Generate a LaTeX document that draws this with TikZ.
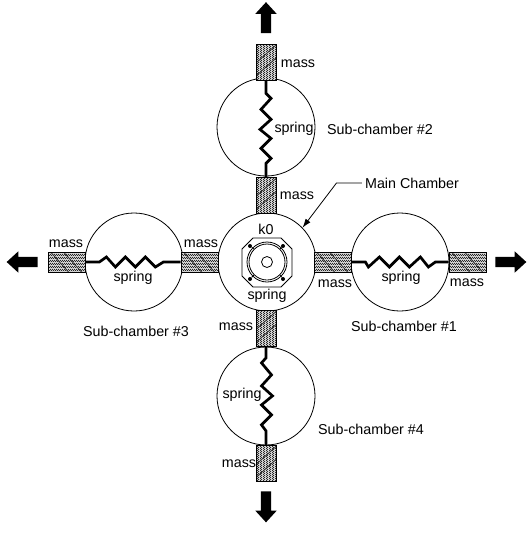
\documentclass[tikz,border=0pt]{standalone}
\usepackage{fontspec}
\setmainfont{Liberation Sans}
\usetikzlibrary{patterns,shapes.arrows,arrows.meta,calc}
\pgfdeclarepatternformonly{hatchne}{\pgfqpoint{0pt}{0pt}}{\pgfqpoint{2.4pt}{2.4pt}}{\pgfqpoint{2.4pt}{2.4pt}}{%
  \pgfsetlinewidth{0.7pt}%
  \pgfpathmoveto{\pgfqpoint{-0.2pt}{-0.2pt}}\pgfpathlineto{\pgfqpoint{2.6pt}{2.6pt}}\pgfusepath{stroke}}
\pgfdeclarepatternformonly{hatchnw}{\pgfqpoint{0pt}{0pt}}{\pgfqpoint{2.4pt}{2.4pt}}{\pgfqpoint{2.4pt}{2.4pt}}{%
  \pgfsetlinewidth{0.7pt}%
  \pgfpathmoveto{\pgfqpoint{-0.2pt}{2.6pt}}\pgfpathlineto{\pgfqpoint{2.6pt}{-0.2pt}}\pgfusepath{stroke}}
\tikzset{
  x=1pt,y=-1pt,
  lbl/.style={font=\fontsize{14.3}{16}\selectfont,inner sep=0pt},
  chamber/.style={circle,draw=black,line width=0.8pt,minimum size=98pt,inner sep=0pt,fill=white},
  massv/.style={draw=black,line width=0.8pt,inner sep=0pt,pattern=hatchne,minimum width=20pt,minimum height=36pt,
    preaction={fill=black!15},
    path picture={\foreach \o in {-7,6}{\draw[black!80,line width=0.8pt] ($(path picture bounding box.center)+(-10,\o+8)$) -- ++(20,-18);}}},
  massh/.style={draw=black,line width=0.8pt,inner sep=0pt,pattern=hatchnw,minimum width=37pt,minimum height=20pt,
    preaction={fill=black!15},
    path picture={\foreach \o in {-7,6}{\draw[black!80,line width=0.8pt] ($(path picture bounding box.center)+(\o-9,-10)$) -- ++(18,20);}}},
  springline/.style={line width=2.7pt,line join=miter},
  bigarrow/.style={single arrow,fill=black,draw=none,inner sep=5pt,minimum height=31pt,minimum width=21pt,
    single arrow head extend=5.5pt,single arrow tip angle=85,single arrow head indent=0pt},
  thinline/.style={line width=0.8pt},
}
\begin{document}
\begin{tikzpicture}
\useasboundingbox (0,0) rectangle (532,533);
\fill[white] (0,0) rectangle (532,533);
% chambers
\node[chamber] (main) at (267,262) {};
\node[chamber] (c2) at (266,127) {};
\node[chamber] (c1) at (400,262) {};
\node[chamber] (c3) at (134,262) {};
\node[chamber] (c4) at (266,396) {};
% masses
\node[massv] (m2o) at (266,62) {};
\node[massv] (m2i) at (266,195.5) {};
\node[massv] (m4i) at (266,328.5) {};
\node[massv] (m4o) at (266,463.5) {};
\node[massh] (m1i) at (332.5,262) {};
\node[massh] (m1o) at (467.5,262) {};
\node[massh] (m3i) at (199.5,262) {};
\node[massh] (m3o) at (66.5,262) {};
% springs
\draw[springline] (m2o.south) -- ++(0,13) -- ++(5,5) -- ++(-10,11) -- ++(10,10) -- ++(-11,10) -- ++(11,9) -- ++(-10,10) -- ++(10,10) -- ++(-5,5) -- (m2i.north);
\draw[springline] (m4i.south) -- ++(0,11) -- ++(-4.5,5) -- ++(10,12) -- ++(-10,11) -- ++(11,10) -- ++(-11,9) -- ++(10,10) -- ++(-10,10) -- ++(4.5,6) -- (m4o.north);
\draw[springline] (m1i.east) -- ++(14,0) -- ++(3,5) -- ++(11,-10) -- ++(10,10) -- ++(10,-10) -- ++(10,10) -- ++(11,-10) -- ++(8,10) -- ++(7,-5) -- (m1o.west);
\draw[springline] (m3o.east) -- ++(14,0) -- ++(7,-5) -- ++(9,10) -- ++(10,-10) -- ++(10,10) -- ++(10,-10) -- ++(10,10) -- ++(8,-5) -- (m3i.west);
% arrows
\node[bigarrow,shape border rotate=90] (a2) at (266,20.5) {};
\node[bigarrow,shape border rotate=270] (a4) at (266,504) {};
\node[bigarrow,shape border rotate=0] (a1) at (508,262) {};
\node[bigarrow,shape border rotate=180] (a3) at (25,262) {};
% speaker
\draw[thinline] (242,249) -- (253,238) -- (281,238) -- (292,249) -- (292,276) -- (281,287) -- (253,287) -- (242,276) -- cycle;
\node[circle,draw=black,line width=0.8pt,minimum size=40pt,inner sep=0pt] (s1) at (267,262) {};
\node[circle,draw=black,line width=0.8pt,minimum size=36pt,inner sep=0pt] (s2) at (267,262) {};
\node[circle,draw=black,line width=0.8pt,minimum size=11pt,inner sep=0pt] (s3) at (267,262) {};
\foreach \n/\px/\py in {d1/250/246,d2/283/246,d3/250/279,d4/283/279}{
  \node[circle,fill=black,minimum size=4pt,inner sep=0pt] (\n) at (\px,\py) {};
}
\draw[thinline] (d1) -- (s2.135);
\draw[thinline] (d2) -- (s2.45);
\draw[thinline] (d3) -- (s2.225);
\draw[thinline] (d4) -- (s2.315);
% labels
\node[lbl] (l1) at (298,64) {mass};
\node[lbl] (l2) at (294,128.5) {spring};
\node[lbl] (l3) at (380,129) {Sub-chamber \#2};
\node[lbl] (l4) at (297,196) {mass};
\node[lbl] (l5) at (266,229) {k0};
\node[lbl] (l6) at (267,295.5) {spring};
\node[lbl] (l7) at (335,284) {mass};
\node[lbl] (l8) at (467,283) {mass};
\node[lbl] (l9) at (401,277.5) {spring};
\node[lbl] (l10) at (66,244) {mass};
\node[lbl] (l11) at (201,244) {mass};
\node[lbl] (l12) at (133,277.5) {spring};
\node[lbl] (l13) at (136,331) {Sub-chamber \#3};
\node[lbl] (l14) at (404,326) {Sub-chamber \#1};
\node[lbl] (l15) at (236,327) {mass};
\node[lbl] (l16) at (242,394.5) {spring};
\node[lbl] (l17) at (371,429) {Sub-chamber \#4};
\node[lbl] (l18) at (239,464) {mass};
\node[lbl] (mc) at (412,183) {Main Chamber};
\coordinate (knee) at (336.5,183);
\draw[thinline,-{Latex[length=9pt,width=6pt]}] ($(mc.west)+(-3,0)$) -- (knee) -- (main.44);
\end{tikzpicture}
\end{document}
